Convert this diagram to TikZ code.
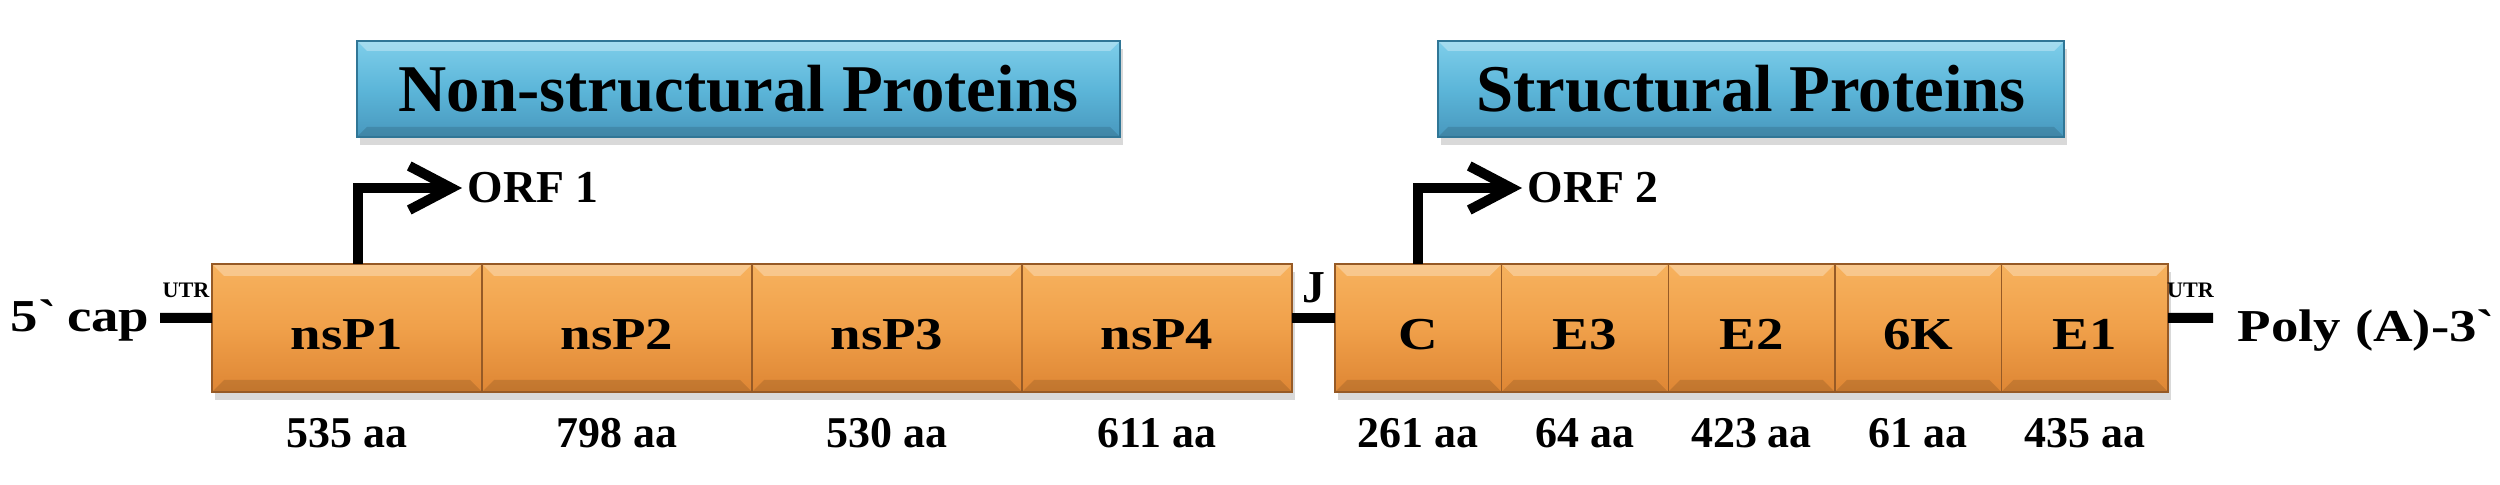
\documentclass[tikz,border=0pt]{standalone}
\usepackage{fontspec}
\setmainfont{Liberation Serif}
\newfontfamily\widefont{Liberation Serif}[FakeStretch=1.2]
\usetikzlibrary{positioning,shadows,arrows.meta}

\definecolor{segtop}{RGB}{247,178,94}
\definecolor{segmid}{RGB}{240,160,74}
\definecolor{segbot}{RGB}{222,134,52}
\definecolor{segedge}{RGB}{150,90,38}
\definecolor{titletop}{RGB}{126,206,234}
\definecolor{titlemid}{RGB}{92,182,217}
\definecolor{titlebot}{RGB}{72,152,190}
\definecolor{titleedge}{RGB}{48,118,150}

\tikzset{
  bevel/.style={path picture={
      \fill[white,opacity=0.3] (path picture bounding box.north west) -- (path picture bounding box.north east)
        -- ++(-#1,-#1) -- ([shift={(#1,-#1)}]path picture bounding box.north west) -- cycle;
      \fill[black,opacity=0.12] (path picture bounding box.south west) -- (path picture bounding box.south east)
        -- ++(-#1,#1) -- ([shift={(#1,#1)}]path picture bounding box.south west) -- cycle;}},
  segment/.style={draw=segedge, line width=0.4pt, top color=segtop, bottom color=segbot, middle color=segmid,
    bevel=0.12, minimum height=1.28cm, inner sep=0pt, outer sep=0pt, text height=0.44cm, text depth=0pt,
    font=\widefont\bfseries\fontsize{13}{13}\selectfont,
    drop shadow={shadow xshift=0.3mm, shadow yshift=-0.8mm, opacity=0.3}},
  nsbox/.style={segment, minimum width=2.70cm},
  sbox/.style={segment, minimum width=1.666cm},
  titlebox/.style={draw=titleedge, line width=0.4pt, top color=titletop, bottom color=titlebot, middle color=titlemid,
    bevel=0.1, minimum height=0.96cm, inner sep=0pt, font=\bfseries\fontsize{19}{19}\selectfont,
    drop shadow={shadow xshift=0.3mm, shadow yshift=-0.8mm, opacity=0.3}},
  rnaline/.style={line width=1mm},
  orfarrow/.style={line width=1mm, -{Straight Barb[length=4.2mm,width=4.4mm]}},
  orflabel/.style={anchor=west, inner sep=0.5mm, font=\bfseries\fontsize{13}{13}\selectfont},
  endlabel/.style={inner sep=0pt, font=\widefont\bfseries\fontsize{13}{13}\selectfont},
  utrlabel/.style={font=\bfseries\fontsize{6.3}{6.3}\selectfont},
  aalabel/.style={anchor=base, font=\bfseries\fontsize{12.5}{12.5}\selectfont},
}

\begin{document}
\begin{tikzpicture}
  \useasboundingbox (0,0) rectangle (25,4.85);

  % protein groups
  \node[titlebox, minimum width=7.63cm] (nonstruct) at (7.385,3.96) {Non-structural Proteins};
  \node[titlebox, minimum width=6.26cm] (struct) at (17.51,3.96) {Structural Proteins};

  % non-structural genes
  \node[nsbox, anchor=west] (nsp1) at (2.12,1.57) {nsP1};
  \node[nsbox, right=0pt of nsp1] (nsp2) {nsP2};
  \node[nsbox, right=0pt of nsp2] (nsp3) {nsP3};
  \node[nsbox, right=0pt of nsp3] (nsp4) {nsP4};

  % structural genes
  \node[sbox, anchor=west] (capsid) at (13.35,1.57) {C};
  \node[sbox, right=0pt of capsid] (e3) {E3};
  \node[sbox, right=0pt of e3] (e2) {E2};
  \node[sbox, right=0pt of e2] (sixk) {6K};
  \node[sbox, right=0pt of sixk] (e1) {E1};

  % ends and junction
  \coordinate (fivecap) at (1.60,1.67);
  \coordinate (polya) at (22.13,1.67);
  \node[endlabel, anchor=base east] (capl) at (1.50,1.53) {5\textasciigrave{} cap};
  \node[endlabel, anchor=base west] (polyl) at (22.37,1.43) {Poly (A)-3\textasciigrave};
  \draw[rnaline] (fivecap) -- node[above=0.4mm, utrlabel] (utr5) {UTR} ([yshift=1mm]nsp1.west);
  \draw[rnaline] ([yshift=1mm]e1.east) -- node[above=0.4mm, utrlabel] (utr3) {UTR} (polya);
  \draw[rnaline] ([yshift=1mm]nsp4.east) -- node[above=0.5mm, orflabel, anchor=south] (jlab) {J} ([yshift=1mm]capsid.west);

  % open reading frames
  \node[orflabel] (orf1) at (4.62,2.97) {ORF 1};
  \node[orflabel] (orf2) at (15.22,2.97) {ORF 2};
  \draw[orfarrow] ([xshift=1.1mm]nsp1.north) |- (orf1.west);
  \draw[orfarrow] (capsid.north) |- (orf2.west);

  % lengths
  \foreach \seg/\len in {nsp1/535,nsp2/798,nsp3/530,nsp4/611,capsid/261,e3/64,e2/423,sixk/61,e1/435}
    \node[aalabel] (len-\seg) at ([yshift=-5.6mm]\seg.south) {\len{} aa};
\end{tikzpicture}
\end{document}
